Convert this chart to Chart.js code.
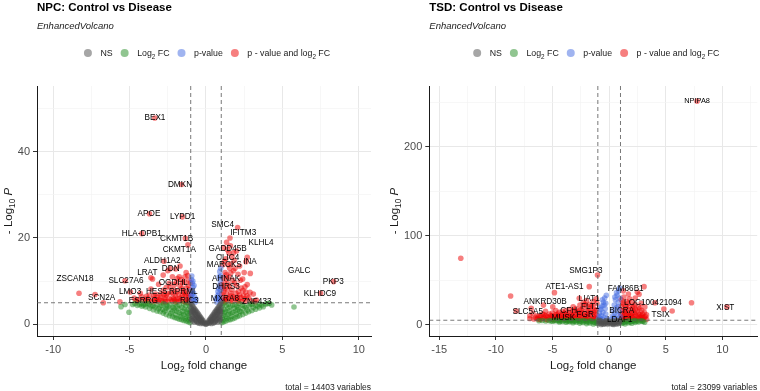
<!DOCTYPE html>
<html>
<head>
<meta charset="utf-8">
<script src="https://cdn.jsdelivr.net/npm/chart.js@4.4.0/dist/chart.umd.min.js"></script>
<style>
  html, body { margin: 0; padding: 0; background: #fff; }
  #wrap { display: flex; width: 760px; height: 391px; }
  canvas { display: block; }
</style>
</head>
<body>
<div id="wrap">
  <canvas id="npc" width="380" height="391"></canvas>
  <canvas id="tsd" width="380" height="391"></canvas>
</div>
<script>
// cut-offs used by EnhancedVolcano
var fcCutoff = [-1, 1];
var pCutoff = 5;

// legend text, [text, 0 normal | 1 subscript]
var legendNames = [
  [['NS', 0]],
  [['Log', 0], ['2', 1], [' FC', 0]],
  [['p-value', 0]],
  [['p - value and log', 0], ['2', 1], [' FC', 0]]
];

// ---------- NPC: Control vs Disease ----------
var npcXTicks = [-10, -7.5, -5, -2.5, 0, 2.5, 5, 7.5, 10];
var npcXLabels = [-10, -5, 0, 5, 10];
var npcYTicks = [0, 10, 20, 30, 40, 50];
var npcYLabels = [0, 20, 40];

var npcNS = [
  [-0.98,4.8],[-0.97,3.7],[-0.96,2.4],[-0.95,1.2],[-0.91,4.4],[-0.9,3.2],[-0.9,1.9],[-0.89,0.8],
  [-0.85,4.1],[-0.84,2.9],[-0.83,1.6],[-0.79,3.8],[-0.78,2.6],[-0.78,1.3],[-0.77,0.5],
  [-0.73,3.5],[-0.72,2.3],[-0.71,1.1],[-0.67,3.2],[-0.66,2.0],[-0.65,0.8],[-0.61,2.9],[-0.6,1.8],[-0.6,0.6],
  [-0.55,2.6],[-0.54,1.5],[-0.53,0.4],[-0.49,2.3],[-0.48,1.3],[-0.47,0.3],[-0.43,2.0],[-0.42,1.0],
  [-0.37,1.7],[-0.36,0.8],[-0.35,0.2],[-0.31,1.4],[-0.3,0.6],[-0.25,1.1],[-0.24,0.4],[-0.19,0.8],[-0.18,0.2],
  [-0.13,0.5],[-0.07,0.25],[-0.02,0.05],[0.03,0.08],[0.08,0.3],[0.14,0.55],[0.19,0.85],[0.2,0.25],
  [0.25,1.15],[0.26,0.45],[0.31,1.45],[0.32,0.65],[0.37,1.75],[0.38,0.85],[0.36,0.2],[0.43,2.05],[0.44,1.05],
  [0.49,2.35],[0.5,1.3],[0.48,0.3],[0.55,2.65],[0.56,1.55],[0.54,0.45],[0.61,2.95],[0.62,1.85],[0.6,0.6],
  [0.67,3.25],[0.68,2.05],[0.66,0.85],[0.73,3.55],[0.74,2.35],[0.72,1.15],[0.79,3.85],[0.8,2.65],[0.8,1.35],[0.78,0.5],
  [0.85,4.15],[0.86,2.95],[0.84,1.65],[0.91,4.45],[0.92,3.25],[0.9,1.95],[0.9,0.8],[0.97,4.85],[0.98,3.75],[0.96,2.45],[0.95,1.25],
  [-0.93,2.9],[-0.82,3.3],[-0.7,2.8],[-0.58,2.2],[-0.45,1.6],[-0.33,1.0],[0.34,1.1],[0.46,1.7],[0.58,2.3],[0.7,2.9],[0.82,3.4],[0.93,3.0]
];
var npcFC = [
  [-1.04,0.4],[-1.06,1.5],[-1.03,2.8],[-1.05,4.1],[-1.16,0.6],[-1.14,2.0],[-1.17,3.4],[-1.15,4.7],
  [-1.3,0.8],[-1.31,1.8],[-1.28,3.0],[-1.32,4.3],[-1.45,0.9],[-1.46,2.2],[-1.44,3.6],[-1.47,4.8],
  [-1.6,1.1],[-1.62,2.4],[-1.58,3.9],[-1.75,1.2],[-1.76,2.7],[-1.74,4.5],[-1.9,1.4],[-1.92,3.0],[-1.88,4.2],
  [-2.05,1.6],[-2.07,3.3],[-2.03,4.7],[-2.2,1.8],[-2.22,2.9],[-2.18,4.0],[-2.4,2.0],[-2.42,3.4],[-2.38,4.6],
  [-2.6,2.3],[-2.62,3.7],[-2.58,4.4],[-2.8,2.6],[-2.82,3.5],[-2.78,4.8],[-3.0,2.9],[-3.02,4.1],
  [-3.2,3.1],[-3.22,4.5],[-3.45,3.4],[-3.47,4.3],[-3.7,3.7],[-3.72,4.7],[-3.95,4.0],[-3.97,4.6],
  [-4.2,4.2],[-4.22,4.85],[-4.5,4.4],[-4.8,4.6],[-5.04,2.8],[-5.3,4.6],[-5.56,4.1],
  [-1.1,1.0],[-1.22,2.6],[-1.38,1.3],[-1.52,3.0],[-1.68,1.8],[-1.82,3.6],[-1.98,2.2],[-2.12,3.8],[-2.3,2.5],
  [-2.5,4.1],[-2.7,3.1],[-2.9,4.4],[-3.1,3.6],[-3.35,4.0],[-3.6,4.3],[-3.85,4.9],[-4.1,4.5],[-4.35,4.6],[-4.65,4.85],
  [1.04,0.4],[1.06,1.6],[1.03,2.9],[1.05,4.2],[1.16,0.6],[1.14,2.1],[1.17,3.5],[1.15,4.8],
  [1.3,0.8],[1.31,1.9],[1.28,3.1],[1.32,4.4],[1.45,1.0],[1.46,2.3],[1.44,3.7],[1.47,4.7],
  [1.6,1.1],[1.62,2.5],[1.58,4.0],[1.75,1.3],[1.76,2.8],[1.74,4.4],[1.9,1.5],[1.92,3.1],[1.88,4.6],
  [2.05,1.8],[2.07,3.4],[2.03,4.2],[2.2,2.0],[2.22,3.0],[2.18,4.8],[2.4,2.3],[2.42,3.6],[2.38,4.5],
  [2.6,2.6],[2.62,3.9],[2.8,2.9],[2.82,4.3],[3.0,3.2],[3.02,4.6],[3.25,3.5],[3.27,4.4],
  [3.5,3.8],[3.52,4.7],[3.75,4.1],[4.04,4.8],[4.3,4.5],[5.76,4.0],
  [1.1,1.0],[1.22,2.7],[1.38,1.4],[1.52,3.1],[1.68,1.9],[1.82,3.7],[1.98,2.4],[2.12,3.9],[2.3,2.9],
  [2.5,4.2],[2.7,3.3],[2.9,4.7],[3.1,3.9],[3.4,4.2],[3.65,4.5],[3.9,4.7],[4.15,4.9]
];
var npcP = [
  [-0.97,5.3],[-0.92,6.1],[-0.88,7.0],[-0.95,7.8],[-0.85,8.6],[-0.9,9.5],[-0.95,10.4],[-0.8,5.6],
  [-0.75,6.4],[-0.7,5.2],[-0.82,7.3],[-0.78,9.0],[-0.93,11.2],[-0.65,5.8],[-0.86,10.0],[-0.98,6.7],
  [0.97,5.4],[0.9,6.2],[0.85,7.1],[0.95,8.0],[0.8,5.7],[0.75,6.6],[0.7,5.2],[0.88,9.0],
  [0.93,10.1],[0.82,8.3],[0.97,11.2],[0.9,12.2],[0.96,13.0],[0.65,6.0],[0.78,7.6],[0.86,11.0]
];
var npcBoth = [
  [-1.05,5.4],[-1.1,6.3],[-1.2,7.2],[-1.08,8.1],[-1.15,9.0],[-1.12,10.2],[-1.2,11.3],[-1.3,12.0],
  [-1.25,5.8],[-1.35,6.8],[-1.3,8.4],[-1.4,9.8],[-1.45,5.3],[-1.5,7.6],[-1.55,9.6],[-1.6,6.2],[-1.65,5.5],
  [-1.7,8.9],[-1.75,11.0],[-1.8,7.0],[-1.9,5.9],[-1.95,9.8],[-2.0,6.6],[-2.1,8.0],[-2.2,5.4],[-2.2,11.0],
  [-2.3,7.3],[-2.4,6.0],[-2.4,9.5],[-2.5,5.3],[-2.6,6.8],[-2.6,8.6],[-2.7,5.8],[-2.8,7.9],
  [-2.9,5.5],[-3.0,6.4],[-3.1,9.3],[-3.15,5.3],[-3.3,7.0],[-3.45,5.9],[-3.5,10.5],[-3.6,8.2],
  [-3.75,5.4],[-3.9,6.5],[-4.1,5.6],[-4.3,7.2],[-4.5,5.3],[-4.7,6.1],[-4.95,7.5],
  [-1.7,13.5],[-1.98,12.8],[-2.8,11.4],[-2.5,12.4],[-3.6,10.8],
  [-1.35,5.2],[-1.85,5.3],[-2.05,5.6],[-2.65,5.2],[-3.35,5.4],[-3.95,5.3],[-1.55,6.8],[-2.15,7.1],[-2.75,6.9],[-3.2,6.3],
  [-1.02,6.9],[-1.18,5.1],[-1.28,6.4],[-1.42,7.4],[-1.58,8.3],[-1.72,6.0],[-1.88,7.6],[-1.98,5.2],[-2.12,6.0],
  [-2.28,5.8],[-2.35,8.6],[-2.52,7.2],[-2.68,6.2],[-2.85,5.2],[-2.95,7.0],[-3.05,5.8],[-3.25,5.6],[-3.4,6.6],
  [-3.55,5.2],[-3.7,6.8],[-3.85,5.9],[-4.2,6.4],[-4.4,5.8],[-4.6,5.5],[-1.02,9.6],[-1.38,11.0],[-1.62,10.4],[-1.88,10.6],[-2.05,9.2],
  [-5.3,10.1],[-5.63,5.2],[-6.72,5.0],[-7.26,6.9],[-8.31,7.2],
  [-3.35,47.8],[-1.6,32.4],[-3.7,25.6],[-1.55,24.9],[-4.2,21.0],[-1.35,19.9],[-1.18,18.4],[-2.75,14.6],[-2.35,12.9],
  [1.05,5.3],[1.1,6.2],[1.15,7.4],[1.08,8.5],[1.2,9.6],[1.12,10.8],[1.25,12.0],[1.1,13.8],[1.2,14.6],
  [1.3,5.8],[1.35,7.0],[1.4,8.2],[1.45,9.4],[1.5,11.0],[1.55,13.0],[1.3,15.2],[1.4,17.3],
  [1.6,5.4],[1.65,6.6],[1.7,8.0],[1.75,10.2],[1.8,12.4],[1.85,14.8],[1.7,15.6],[1.5,16.5],[1.6,18.2],[1.57,20.0],
  [1.9,6.0],[1.95,7.2],[2.0,9.0],[2.1,11.6],[2.0,17.0],[2.2,13.5],[2.15,5.5],[2.2,6.8],[2.3,8.4],[2.4,10.5],[2.5,12.0],
  [2.5,5.9],[2.6,7.5],[2.7,9.2],[2.9,11.8],[2.8,6.2],[2.95,5.4],[3.1,7.0],[3.3,5.6],[2.07,22.4],[2.7,15.5],
  [1.25,5.2],[1.75,5.3],[2.35,5.3],[1.5,6.0],[2.05,6.3],[2.45,6.6],[1.35,10.5],[1.62,11.9],
  [1.02,7.0],[1.18,5.6],[1.22,8.2],[1.38,6.2],[1.52,8.8],[1.62,7.2],[1.78,6.4],[1.88,9.6],[2.08,5.3],
  [2.12,7.6],[2.28,6.2],[2.42,7.8],[2.58,5.4],[2.68,6.6],[2.88,7.4],[3.2,5.2],[1.02,9.2],[1.32,11.5],
  [1.45,13.8],[1.65,14.0],[1.9,13.0],[2.25,10.2],[1.15,17.8],[1.8,16.6],[1.35,19.0],
  [2.62,14.5],[2.55,8.7],[8.35,9.9],[7.5,7.2]
];
var npcGenes = [
  ['BEX1', -3.34, 47.8], ['DMKN', -1.7, 32.4], ['APOE', -3.73, 25.7], ['LYPD1', -1.53, 24.9],
  ['SMC4', 1.09, 23.0], ['IFITM3', 2.44, 21.2], ['HLA-DPB1', -4.2, 20.9], ['CKMT1B', -1.92, 19.9],
  ['CKMT1A', -1.75, 17.2], ['KLHL4', 3.6, 19.0], ['GADD45B', 1.42, 17.5], ['CLIC4', 1.42, 15.4],
  ['MARCKS', 1.2, 13.9], ['INA', 2.88, 14.4], ['ALDH1A2', -2.86, 14.65], ['DDN', -2.31, 12.9],
  ['LRAT', -3.84, 11.9], ['GALC', 6.1, 12.5], ['ZSCAN18', -8.57, 10.5], ['SLC27A6', -5.24, 10.0],
  ['OGDHL', -2.14, 9.6], ['AHNAK', 1.31, 10.6], ['PKP3', 8.33, 9.95], ['DHRS3', 1.31, 8.6],
  ['KLHDC9', 7.46, 7.2], ['LMO3', -4.97, 7.5], ['HES5', -3.23, 7.5], ['RPRML', -1.49, 7.55],
  ['SCN2A', -6.83, 6.2], ['ESRRG', -4.1, 5.4], ['RIC3', -1.09, 5.5], ['MXRA8', 1.24, 6.0], ['ZNF433', 3.32, 5.2]
];

// ---------- TSD: Control vs Disease ----------
var tsdXTicks = [-15, -12.5, -10, -7.5, -5, -2.5, 0, 2.5, 5, 7.5, 10, 12.5];
var tsdXLabels = [-15, -10, -5, 0, 5, 10];
var tsdYTicks = [0, 50, 100, 150, 200, 250];
var tsdYLabels = [0, 100, 200];

var tsdNS = [
  [-0.95,1.0],[-0.9,3.5],[-0.8,2.0],[-0.75,4.5],[-0.65,1.2],[-0.6,3.2],[-0.5,0.5],[-0.45,2.5],[-0.35,4.0],
  [-0.3,1.5],[-0.2,3.0],[-0.15,0.4],[-0.05,2.0],[0.05,4.2],[0.1,1.0],[0.2,2.8],[0.3,0.6],[0.35,4.3],
  [0.45,1.8],[0.55,3.6],[0.6,0.8],[0.7,2.4],[0.8,4.4],[0.85,1.4],[0.95,3.0],[-0.7,0.3],[0.4,0.2],
  [-0.25,4.6],[0.65,4.7],[-0.85,4.8],[-0.4,1.2],[0.0,3.0],[0.25,1.8],[0.5,2.5],[0.75,1.0],[0.9,4.0]
];
var tsdFC = [
  [-1.1,1.5],[-1.1,4],[-1.4,0.8],[-1.4,3.2],[-1.7,2],[-1.7,4.5],[-2.0,1.2],[-2.0,3.6],[-2.3,2.5],[-2.3,4.6],
  [-2.6,1.8],[-2.6,4],[-2.9,3],[-2.9,4.7],[-3.2,2.2],[-3.2,4.2],[-3.5,3.4],[-3.5,4.8],[-3.8,2.8],[-3.8,4.4],
  [-4.1,3.6],[-4.4,4.2],[-4.4,3.0],[-4.7,4.5],[-5.0,3.8],[-5.3,4.6],[-5.6,4.2],[-5.9,4.7],[-6.2,4.5],
  [-1.25,2.5],[-1.55,4],[-1.85,3],[-2.15,4.3],[-2.45,3.5],[-2.75,4.6],[-3.05,3.8],[-3.35,4.5],[-3.65,4],
  [-3.95,4.7],[-4.25,4.3],[-4.55,4.8],[-4.85,4.6],[-5.15,4.3],
  [1.1,1.4],[1.1,3.9],[1.4,0.9],[1.4,3.1],[1.7,2.2],[1.7,4.4],[2.0,1.6],[2.0,3.8],[2.3,2.6],[2.3,4.6],
  [2.6,3.2],[2.9,4.0],[3.13,2.7],[1.25,2.5],[1.55,3.8],[1.85,3],[2.15,4.3],[2.45,3.8],[2.75,4.5],[3.0,3.8]
];
var tsdP = [
  [-0.95,6],[-0.9,9],[-0.85,13],[-0.8,7],[-0.75,17],[-0.7,10],[-0.65,21],[-0.6,6],[-0.55,14],[-0.5,25],
  [-0.45,8],[-0.4,30],[-0.35,18],[-0.3,12],[-0.25,33],[-0.2,7],[-0.45,22],[-0.6,28],[-0.8,19],[-0.3,24],
  [0.2,6],[0.3,10],[0.35,16],[0.4,8],[0.45,22],[0.5,13],[0.55,28],[0.6,7],[0.65,19],[0.7,33],
  [0.75,11],[0.8,25],[0.85,38],[0.9,15],[0.95,30],[0.98,9],[0.92,41],[0.65,36],[0.5,31],[0.8,20]
];
var tsdBoth = [
  [-1.1,6],[-1.1,11],[-1.12,17],[-1.08,24],[-1.15,29],[-1.4,5.5],[-1.4,9],[-1.38,14],[-1.42,20],[-1.4,26],
  [-1.7,7],[-1.7,12],[-1.68,18],[-1.72,23],[-2.0,5.5],[-2.0,10],[-2.02,15],[-1.98,21],[-2.0,27],
  [-2.3,8],[-2.3,13],[-2.32,19],[-2.28,25],[-2.6,6],[-2.6,11],[-2.62,16],[-2.58,22],[-2.64,29.6],
  [-2.9,7.5],[-2.9,12],[-2.92,18],[-3.2,5.5],[-3.2,10],[-3.22,15],[-3.18,20],[-3.5,8],[-3.5,13],[-3.52,17],
  [-3.8,6],[-3.8,11],[-3.82,16],[-4.1,7],[-4.1,12],[-4.12,15],[-4.4,5.5],[-4.4,9.5],[-4.42,14],
  [-4.7,7],[-4.7,11],[-4.72,16],[-5.0,6],[-5.0,10],[-5.02,13],[-4.98,20],[-5.3,8],[-5.3,12],
  [-5.6,6],[-5.6,10],[-5.62,15],[-5.9,7],[-5.9,12],[-6.2,6],[-6.2,9.5],[-6.5,8],[-6.74,12.8],
  [-7.0,7],[-7.0,10],[-6.88,18.4],[-8.2,15.4],[-5.8,22],[-4.83,36],[-8.7,32.2],[-13.1,74.6],[-1.76,42.7],[-1.03,55.8],
  [-1.25,7.5],[-1.55,6.2],[-1.85,8.2],[-2.15,6.5],[-2.45,9.5],[-2.75,5.8],[-3.05,7.2],[-3.35,6.0],[-3.65,5.4],
  [-3.95,8.8],[-4.25,6.2],[-4.55,7.8],[-4.85,5.6],[-5.15,6.8],[-5.45,5.5],[-5.75,8.5],[-6.05,5.8],[-6.35,6.8],
  [-1.25,16],[-1.55,21],[-1.85,16],[-2.15,23],[-2.45,17],[-2.75,14],[-3.05,16],[-3.35,11],[-3.65,11],
  [-3.95,13],[-4.25,10],[-4.55,12],[-4.85,9],[-5.15,10],[-5.45,9],[-5.75,11.5],[-6.05,9],[-6.35,10],[-6.65,6.5],
  [-1.25,11],[-1.55,14],[-1.85,12],[-2.15,10],[-2.45,13],[-2.75,9.5],[-3.05,11],[-3.35,9],[-3.65,8.5],
  [-3.95,6.5],[-4.25,8.5],[-4.55,10],
  [1.05,6],[1.05,12],[1.08,20],[1.06,28],[1.3,5.5],[1.3,9],[1.32,15],[1.28,23],[1.3,31],
  [1.55,7],[1.55,11],[1.57,18],[1.53,26],[1.7,34.5],[1.8,5.5],[1.8,10],[1.82,14],[1.78,21],[1.8,29],
  [2.05,8],[2.05,13],[2.07,19],[2.03,25],[2.3,6],[2.3,11],[2.32,17],[2.28,23],[2.3,30],
  [2.49,36.4],[2.64,34.2],[3.08,42.7],[2.6,7],[2.6,12],[2.62,20],[2.85,6],[2.85,10],[2.87,16],[2.83,24],
  [3.1,8],[3.1,14],[3.3,6],[3.3,11],[3.15,20],[1.25,38],
  [1.2,7.5],[1.45,6.3],[1.7,8.5],[1.95,6.2],[2.2,9.5],[2.45,5.6],[2.75,8.5],[3.0,5.5],[1.15,16],[1.4,12.5],
  [1.2,25],[1.45,20],[1.7,24],[1.95,17],[2.2,20],[2.45,15],[2.7,18],[2.95,12],[3.2,9],
  [1.2,10],[1.45,15],[1.7,12],[1.95,10],[2.2,14],[2.45,9],[2.7,11],[2.95,8],
  [4.04,24.7],[4.83,17.6],[5.56,15.4],[7.27,24.7],[10.4,20],[7.76,251]
];
var tsdGenes = [
  ['NPIPA8', 7.76, 251], ['SMG1P3', -2.05, 60.7], ['ATE1-AS1', -3.95, 42.7], ['FAM86B1', 1.46, 40.9],
  ['LIAT1', -1.76, 29.6], ['ANKRD30B', -5.65, 25.8], ['LOC100421094', 3.87, 24.7], ['FLT1', -1.67, 20.2],
  ['CFH', -3.57, 15.4], ['BICRA', 1.11, 15.7], ['XIST', 10.25, 19.1], ['SLC5A5', -7.18, 14.6],
  ['TSIX', 4.54, 10.9], ['MUSK', -4.04, 8.3], ['FGR', -2.11, 10.9], ['LDAF1', 0.94, 6.0]
];

// ---------- drawing ----------
var FONT = "'Liberation Sans', Arial, Helvetica, sans-serif";
var COLORS = ['rgba(77,77,77,0.5)', 'rgba(34,139,34,0.5)', 'rgba(65,105,225,0.5)', 'rgba(238,0,0,0.5)'];

function partFont(p, size) {
  var s = p[1] === 1 ? size * 0.72 : size;
  return (p[1] === 2 ? 'italic ' : '') + s + 'px ' + FONT;
}

function drawRich(ctx, parts, x, y, size, align) {
  var widths = parts.map(function (p) { ctx.font = partFont(p, size); return ctx.measureText(p[0]).width; });
  var total = widths.reduce(function (a, b) { return a + b; }, 0);
  var cx = align === 'center' ? x - total / 2 : (align === 'right' ? x - total : x);
  ctx.textAlign = 'left';
  ctx.textBaseline = 'alphabetic';
  parts.forEach(function (p, i) {
    ctx.font = partFont(p, size);
    ctx.fillText(p[0], cx, y + (p[1] === 1 ? size * 0.3 : 0));
    cx += widths[i];
  });
  return total;
}

var volcanoDeco = {
  id: 'volcanoDeco',
  afterDatasetsDraw: function (chart, args, opts) {
    var ctx = chart.ctx, a = chart.chartArea, xs = chart.scales.x, ys = chart.scales.y;
    ctx.save();
    ctx.beginPath();
    ctx.rect(a.left, a.top, a.right - a.left, a.bottom - a.top);
    ctx.clip();
    ctx.strokeStyle = '#555';
    ctx.lineWidth = 0.8;
    ctx.setLineDash([4, 3]);
    fcCutoff.forEach(function (v) {
      var px = xs.getPixelForValue(v);
      ctx.beginPath(); ctx.moveTo(px, a.top); ctx.lineTo(px, a.bottom); ctx.stroke();
    });
    var py = ys.getPixelForValue(pCutoff);
    ctx.beginPath(); ctx.moveTo(a.left, py); ctx.lineTo(a.right, py); ctx.stroke();
    ctx.restore();

    // gene labels
    ctx.save();
    ctx.fillStyle = '#000';
    ctx.textAlign = 'center';
    ctx.textBaseline = 'middle';
    opts.genes.forEach(function (g) {
      ctx.font = (g[0] === 'NPIPA8' ? 7.4 : 8.2) + 'px ' + FONT;
      ctx.fillText(g[0], xs.getPixelForValue(g[1]), ys.getPixelForValue(g[2]));
    });
    ctx.restore();
  },
  afterDraw: function (chart, args, opts) {
    var ctx = chart.ctx, a = chart.chartArea;
    ctx.save();
    ctx.fillStyle = '#000';
    ctx.textAlign = 'left';
    ctx.textBaseline = 'alphabetic';
    ctx.font = 'bold 11.5px ' + FONT;
    ctx.fillText(opts.title, a.left, 11);
    ctx.fillStyle = '#222';
    ctx.font = 'italic 9.5px ' + FONT;
    ctx.fillText('EnhancedVolcano', a.left, 29);

    // legend
    var r = 4, gapText = 8.5, gapItem = 8, fs = 8.8;
    var widths = legendNames.map(function (parts) {
      return parts.reduce(function (s, p) { ctx.font = partFont(p, fs); return s + ctx.measureText(p[0]).width; }, 0);
    });
    var total = widths.reduce(function (s, w) { return s + 2 * r + gapText + w; }, 0) + gapItem * (widths.length - 1);
    var lx = (a.left + a.right) / 2 + 3 - total / 2, ly = 53;
    chart.data.datasets.forEach(function (ds, i) {
      ctx.fillStyle = ds.backgroundColor;
      ctx.beginPath(); ctx.arc(lx + r, ly, r, 0, Math.PI * 2); ctx.fill();
      ctx.fillStyle = '#1a1a1a';
      drawRich(ctx, legendNames[i], lx + 2 * r + gapText, ly + 3, fs, 'left');
      lx += 2 * r + gapText + widths[i] + gapItem;
    });

    // axis titles
    ctx.fillStyle = '#1a1a1a';
    drawRich(ctx, [['Log', 0], ['2', 1], [' fold change', 0]], (a.left + a.right) / 2, 368.5, 11.5, 'center');
    ctx.save();
    ctx.translate(opts.yTitleX, (a.top + a.bottom) / 2);
    ctx.rotate(-Math.PI / 2);
    drawRich(ctx, [['- Log', 0], ['10', 1], [' ', 0], ['P', 2]], 0, 0, 11.5, 'center');
    ctx.restore();

    // caption
    ctx.fillStyle = '#1a1a1a';
    ctx.textAlign = 'right';
    ctx.font = '8.5px ' + FONT;
    ctx.fillText(opts.caption, a.right, 389.5);
    ctx.restore();
  }
};

function gridOpts(labels) {
  function major(c) { return c.tick && labels.indexOf(c.tick.value) >= 0; }
  return {
    color: function (c) { return major(c) ? '#e8e8e8' : '#f3f3f3'; },
    lineWidth: function (c) { return major(c) ? 1 : 0.7; },
    tickColor: function (c) { return major(c) ? '#333' : 'rgba(0,0,0,0)'; },
    tickLength: 4
  };
}

function toXY(list) {
  return list.map(function (p) { return { x: p[0], y: p[1] }; });
}

function makeVolcano(id, sets, cfg) {
  return new Chart(document.getElementById(id), {
    type: 'scatter',
    data: {
      datasets: ['NS', 'Log2 FC', 'p-value', 'p - value and log2 FC'].map(function (name, i) {
        return { label: name, data: toXY(sets[i]), backgroundColor: COLORS[i] };
      })
    },
    options: {
      responsive: false,
      animation: false,
      events: [],
      layout: { padding: { top: 86, right: cfg.padRight, bottom: 0, left: 0 } },
      elements: { point: { radius: 2.8, borderWidth: 0, hoverRadius: 2.8 } },
      plugins: {
        legend: { display: false },
        tooltip: { enabled: false },
        volcanoDeco: { title: cfg.title, caption: cfg.caption, genes: cfg.genes, yTitleX: cfg.yTitleX }
      },
      scales: {
        x: {
          type: 'linear', min: cfg.xMin, max: cfg.xMax,
          afterFit: function (s) { s.height = 55; },
          afterBuildTicks: function (s) { s.ticks = cfg.xTicks.map(function (v) { return { value: v }; }); },
          ticks: {
            autoSkip: false, maxRotation: 0, padding: 3, color: '#4d4d4d',
            font: { family: FONT, size: 11 },
            callback: function (v) { return cfg.xLabels.indexOf(v) >= 0 ? String(v) : ''; }
          },
          grid: gridOpts(cfg.xLabels),
          border: { display: true, color: '#1a1a1a', width: 1 }
        },
        y: {
          type: 'linear', min: cfg.yMin, max: cfg.yMax,
          afterFit: function (s) { s.width = cfg.left; },
          afterBuildTicks: function (s) { s.ticks = cfg.yTicks.map(function (v) { return { value: v }; }); },
          ticks: {
            autoSkip: false, padding: 3, color: '#4d4d4d',
            font: { family: FONT, size: 11 },
            callback: function (v) { return cfg.yLabels.indexOf(v) >= 0 ? String(v) : ''; }
          },
          grid: gridOpts(cfg.yLabels),
          border: { display: true, color: '#1a1a1a', width: 1 }
        }
      }
    },
    plugins: [volcanoDeco]
  });
}

makeVolcano('npc', [npcNS, npcFC, npcP, npcBoth], {
  title: 'NPC: Control vs Disease', caption: 'total = 14403 variables', genes: npcGenes,
  xMin: -11.06, xMax: 10.8, yMin: -2.7, yMax: 55.2,
  xTicks: npcXTicks, xLabels: npcXLabels, yTicks: npcYTicks, yLabels: npcYLabels,
  left: 37, padRight: 9, yTitleX: 12
});

makeVolcano('tsd', [tsdNS, tsdFC, tsdP, tsdBoth], {
  title: 'TSD: Control vs Disease', caption: 'total = 23099 variables', genes: tsdGenes,
  xMin: -15.88, xMax: 13.07, yMin: -12.7, yMax: 268,
  xTicks: tsdXTicks, xLabels: tsdXLabels, yTicks: tsdYTicks, yLabels: tsdYLabels,
  left: 49.3, padRight: 1.3, yTitleX: 17.5
});
</script>
</body>
</html>
